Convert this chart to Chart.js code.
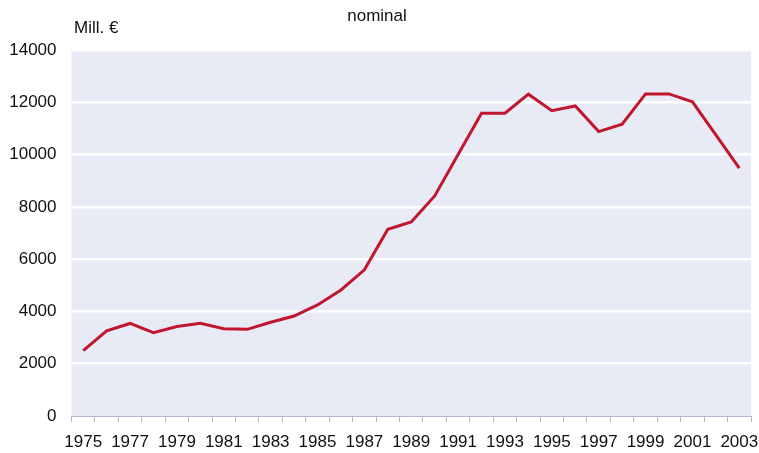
<!DOCTYPE html>
<html>
<head>
<meta charset="utf-8">
<script src="https://cdn.jsdelivr.net/npm/chart.js@4/dist/chart.umd.min.js"></script>
<style>
  html, body { margin: 0; padding: 0; background: #fff; }
  #wrap { width: 759px; height: 453px; }
</style>
</head>
<body>
<div id="wrap"><canvas id="chart"></canvas></div>
<script>
const years = [];
for (let y = 1975; y <= 2003; y++) years.push(String(y));

// Mill. €, nominal
const nominal = [
  2500, 3260, 3540, 3190, 3420, 3545, 3340, 3315, 3585, 3825,
  4250, 4820, 5590, 7140, 7420, 8420, 10000, 11580, 11580, 12310,
  11680, 11860, 10880, 11160, 12320, 12320, 12020, 10750, 9480,
];

const yTicks = [0, 2000, 4000, 6000, 8000, 10000, 12000, 14000];

const FONT = 'Liberation Sans, Arial, sans-serif';
const INK = '#111111';

const plotBg = {
  id: 'plotBg',
  beforeDraw(chart) {
    const { ctx, chartArea: a } = chart;
    ctx.save();
    ctx.fillStyle = '#e8eaf6';
    ctx.fillRect(a.left, a.top, a.right - a.left, a.bottom - a.top);
    ctx.restore();
  },
  afterDraw(chart) {
    const { ctx } = chart;
    ctx.save();
    ctx.fillStyle = INK;
    ctx.font = `17px ${FONT}`;
    ctx.textBaseline = 'middle';
    ctx.textAlign = 'center';
    ctx.fillText('nominal', 377, 16);
    ctx.textAlign = 'left';
    ctx.fillText('Mill. €', 74, 28);
    ctx.restore();
  },
};

new Chart(document.getElementById('chart'), {
  type: 'line',
  data: {
    labels: years,
    datasets: [{
      data: nominal,
      borderColor: '#c0172f',
      borderWidth: 3,
      pointRadius: 0,
      tension: 0,
      fill: false,
    }],
  },
  options: {
    responsive: true,
    maintainAspectRatio: false,
    animation: false,
    layout: { padding: { top: 50, right: 8, left: 0, bottom: 0 } },
    plugins: { legend: { display: false }, tooltip: { enabled: false } },
    scales: {
      x: {
        offset: true,
        grid: {
          offset: true,
          drawOnChartArea: false,
          drawTicks: true,
          tickLength: 6,
          color: '#b4b8d8',
        },
        border: { display: true, color: '#b4b8d8', width: 1 },
        ticks: {
          autoSkip: false,
          maxRotation: 0,
          padding: 10,
          color: INK,
          font: { family: FONT, size: 17 },
          callback(value, index) {
            return index % 2 === 0 ? years[index] : '';
          },
        },
        afterFit(scale) {
          scale.height = 37;
          scale.paddingLeft = 0;
          scale.paddingRight = 0;
        },
      },
      y: {
        min: 0,
        max: 14000,
        afterBuildTicks(scale) {
          scale.ticks = yTicks.map((v) => ({ value: v }));
        },
        grid: {
          color: (c) => (c.tick && c.tick.value === 0 ? 'rgba(0,0,0,0)' : '#ffffff'),
          lineWidth: 2.5,
          drawTicks: false,
        },
        border: { display: false },
        ticks: {
          padding: 15,
          color: INK,
          font: { family: FONT, size: 17 },
          callback: (v) => String(v),
        },
        afterFit(scale) {
          scale.width = 71.5;
          scale.paddingTop = 0;
          scale.paddingBottom = 0;
        },
      },
    },
  },
  plugins: [plotBg],
});
</script>
</body>
</html>
